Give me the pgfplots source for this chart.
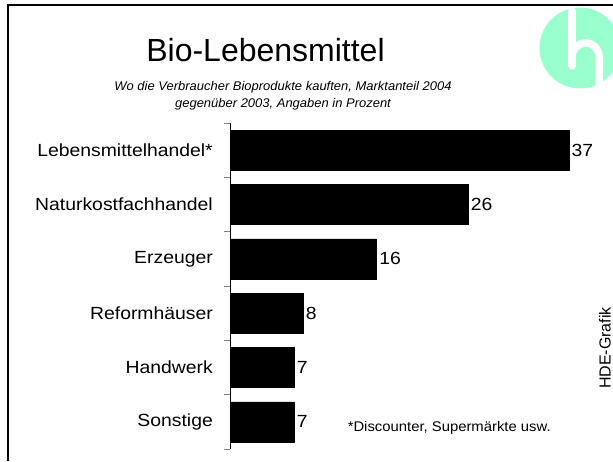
\documentclass[border=0pt]{standalone}
\usepackage{fontspec}
\setmainfont{Liberation Sans}
\newfontfamily\lab[FakeStretch=1.1]{Liberation Sans}
\newfontfamily\foot[FakeStretch=1.06]{Liberation Sans}
\newfontfamily\sub[FakeStretch=1.03]{Liberation Sans}
\usepackage{pgfplots}
\pgfplotsset{compat=1.18}
\definecolor{mint}{RGB}{153,255,204}
\newcommand\labfont{\lab\fontsize{17.6}{20}\selectfont}
\begin{document}
\begin{tikzpicture}[x=1pt,y=1pt]
\useasboundingbox (0,0) rectangle (613,461);
% frame
\draw[line width=2pt] (8,0) -- (8,455.7) -- (614,455.7);
% logo
\begin{scope}
\clip (0,0) rectangle (613,461);
\fill[mint] (580,413) circle (40.5);
\draw[white, line width=7.5pt, line cap=round] (572,450) -- (572,395);
\draw[white, line width=7.5pt] (572,404.5) arc[start angle=180, end angle=0, radius=13.5] -- (599,366);
\end{scope}
% titles
\node[anchor=base, inner sep=0pt] at (265.5,399.3) {\fontsize{32}{38}\selectfont Bio-Lebensmittel};
\node[anchor=base, inner sep=0pt] at (283,370.3) {\sub\fontsize{12.6}{15}\selectfont\itshape Wo die Verbraucher Bioprodukte kauften, Marktanteil 2004};
\node[anchor=base, inner sep=0pt] at (283,353.7) {\sub\fontsize{12.6}{15}\selectfont\itshape gegenüber 2003, Angaben in Prozent};
% footnote and source
\node[anchor=base, inner sep=0pt] at (449.2,29.3) {\foot\fontsize{14}{16}\selectfont *Discounter, Supermärkte usw.};
\node[anchor=base, inner sep=0pt, rotate=90] at (610.5,113) {\fontsize{16}{18}\selectfont HDE-Grafik};
\begin{axis}[
  at={(230pt,12pt)}, anchor=south west,
  scale only axis, width=366.4pt, height=326pt,
  xmin=0, xmax=40, ymin=-0.5, ymax=5.5, y dir=reverse,
  axis x line=none, axis y line*=left,
  y axis line style={-, line width=0.8pt},
  ytick={0,1,2,3,4,5},
  yticklabels={Lebensmittelhandel*,Naturkostfachhandel,Erzeuger,Reformhäuser,Handwerk,Sonstige},
  major tick length=0pt,
  minor ytick={-0.5,0.5,1.5,2.5,3.5,4.5,5.5},
  minor tick length=6pt, tick align=outside,
  minor tick style={line width=0.8pt},
  yticklabel style={font=\labfont, anchor=east, inner sep=0pt, xshift=-17pt},
  clip=false,
  /pgf/number format/assume math mode=true,
  nodes near coords, nodes near coords align={horizontal},
  point meta=x,
  every node near coord/.append style={font=\labfont, anchor=west, inner xsep=2.5pt, inner ysep=0pt},
]
\addplot[xbar, fill=black, draw=black, bar width=40pt, bar shift=0pt] coordinates {(37,0) (26,1) (16,2) (8,3) (7,4) (7,5)};
\end{axis}
\end{tikzpicture}
\end{document}
